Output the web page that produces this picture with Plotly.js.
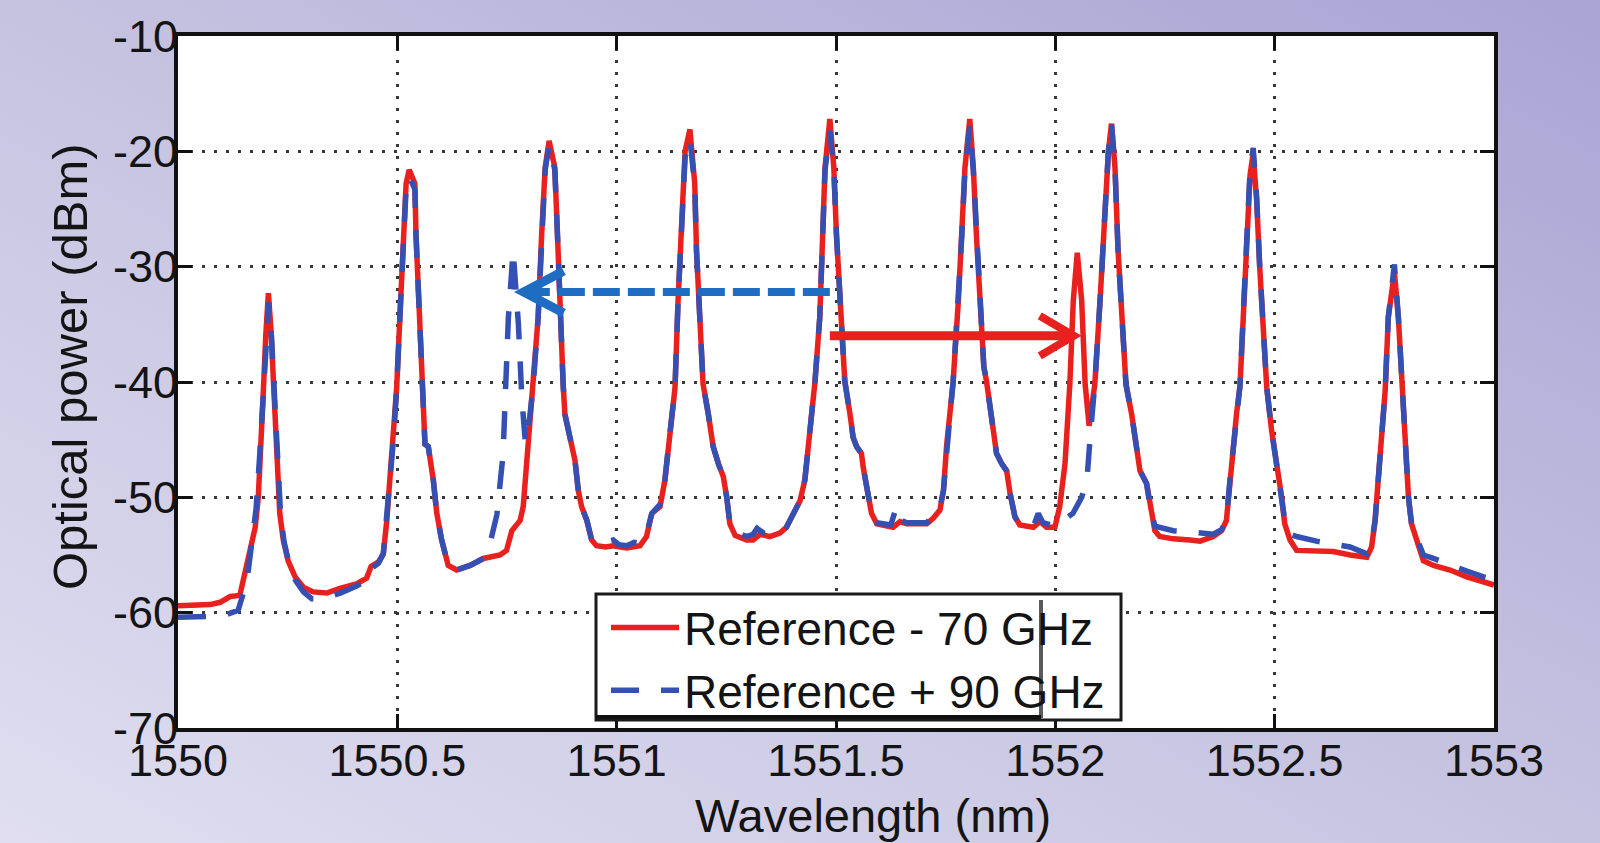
<!DOCTYPE html>
<html>
<head>
<meta charset="utf-8">
<script src="https://cdn.plot.ly/plotly-3.0.1.min.js"></script>
<style>
  html, body {
    margin: 0;
    padding: 0;
    width: 1600px;
    height: 843px;
    overflow: hidden;
    background: linear-gradient(to top right, #e0def0 0%, #c6c3e1 50%, #a9a4d4 100%);
  }
  #chart { width: 1600px; height: 843px; }
</style>
</head>
<body>
<div id="chart"></div>
<script>
// Optical spectrum, reference shifted by -70 GHz (solid red)
const wavelengthMinus70 = [
  1550.000, 1550.040, 1550.073, 1550.096, 1550.119, 1550.141, 1550.149, 1550.164, 1550.176, 1550.183,
  1550.187, 1550.194, 1550.200, 1550.206, 1550.212, 1550.218, 1550.223, 1550.226, 1550.232, 1550.240,
  1550.251, 1550.267, 1550.286, 1550.308, 1550.339, 1550.369, 1550.407, 1550.430, 1550.440, 1550.457,
  1550.468, 1550.476, 1550.483, 1550.491, 1550.4985, 1550.5076, 1550.5136, 1550.520, 1550.527, 1550.540,
  1550.5425, 1550.548, 1550.555, 1550.558, 1550.563, 1550.5705, 1550.582, 1550.590, 1550.601, 1550.616,
  1550.635, 1550.666, 1550.696, 1550.734, 1550.749, 1550.761, 1550.780, 1550.787, 1550.795, 1550.802,
  1550.810, 1550.821, 1550.829, 1550.837, 1550.846, 1550.859, 1550.865, 1550.871, 1550.878, 1550.882,
  1550.894, 1550.905, 1550.9125, 1550.920, 1550.932, 1550.943, 1550.954, 1550.975, 1550.992, 1551.023,
  1551.053, 1551.068, 1551.080, 1551.099, 1551.110, 1551.118, 1551.125, 1551.133, 1551.140, 1551.148,
  1551.156, 1551.167, 1551.178, 1551.182, 1551.188, 1551.197, 1551.209, 1551.220, 1551.232, 1551.243,
  1551.251, 1551.258, 1551.270, 1551.296, 1551.311, 1551.327, 1551.349, 1551.372, 1551.387, 1551.403,
  1551.418, 1551.429, 1551.437, 1551.444, 1551.452, 1551.463, 1551.469, 1551.475, 1551.486, 1551.495,
  1551.501, 1551.509, 1551.517, 1551.520, 1551.532, 1551.539, 1551.547, 1551.558, 1551.562, 1551.570,
  1551.581, 1551.593, 1551.630, 1551.646, 1551.661, 1551.707, 1551.722, 1551.737, 1551.745, 1551.752,
  1551.760, 1551.767, 1551.779, 1551.787, 1551.794, 1551.805, 1551.813, 1551.820, 1551.828, 1551.837,
  1551.843, 1551.855, 1551.866, 1551.878, 1551.889, 1551.897, 1551.908, 1551.919, 1551.950, 1551.965,
  1551.980, 1551.999, 1552.010, 1552.022, 1552.029, 1552.033, 1552.041, 1552.050, 1552.060, 1552.068,
  1552.077, 1552.090, 1552.102, 1552.113, 1552.121, 1552.128, 1552.136, 1552.143, 1552.151, 1552.161,
  1552.174, 1552.185, 1552.193, 1552.208, 1552.216, 1552.227, 1552.238, 1552.269, 1552.307, 1552.330,
  1552.360, 1552.379, 1552.390, 1552.398, 1552.406, 1552.413, 1552.421, 1552.428, 1552.436, 1552.444,
  1552.451, 1552.459, 1552.466, 1552.474, 1552.482, 1552.493, 1552.505, 1552.516, 1552.523, 1552.535,
  1552.550, 1552.595, 1552.634, 1552.672, 1552.710, 1552.721, 1552.729, 1552.736, 1552.744, 1552.752,
  1552.759, 1552.773, 1552.782, 1552.790, 1552.797, 1552.805, 1552.812, 1552.824, 1552.839, 1552.862,
  1552.900, 1552.938, 1552.976, 1553.000
];
const powerMinus70 = [
  -59.4, -59.4, -59.3, -59.1, -58.6, -58.5, -57.2, -54.3, -52.6, -50.0,
  -45.6, -41.3, -36.0, -32.3, -35.5, -40.0, -44.0, -47.9, -51.4, -53.7,
  -55.5, -56.9, -57.8, -58.2, -58.3, -57.9, -57.5, -57.0, -56.0, -55.6,
  -54.9, -52.0, -48.5, -45.1, -40.5, -32.9, -27.2, -22.8, -21.6, -22.8,
  -27.2, -32.9, -40.2, -42.8, -45.4, -45.6, -48.5, -51.4, -53.7, -55.9,
  -56.3, -55.9, -55.3, -55.0, -54.6, -52.9, -52.0, -50.8, -47.1, -42.8,
  -40.2, -34.4, -27.2, -21.4, -19.1, -21.4, -27.2, -34.4, -40.2, -42.8,
  -44.8, -46.8, -49.4, -50.8, -52.0, -53.7, -54.2, -54.3, -54.2, -54.4,
  -54.2, -53.4, -51.4, -50.8, -48.5, -45.6, -42.8, -40.5, -32.9, -25.7,
  -20.0, -18.1, -22.8, -28.6, -34.4, -40.2, -42.8, -45.6, -47.1, -48.2,
  -50.0, -52.3, -53.3, -53.7, -53.7, -53.2, -53.4, -53.1, -52.6, -51.4,
  -50.3, -48.5, -45.6, -42.2, -40.0, -34.4, -27.2, -21.4, -17.2, -21.4,
  -27.2, -33.5, -38.7, -39.9, -42.8, -44.8, -45.6, -46.2, -47.4, -49.4,
  -51.4, -52.3, -52.6, -52.1, -52.3, -52.3, -51.8, -51.1, -49.4, -45.6,
  -42.8, -40.0, -32.9, -27.2, -21.4, -17.2, -21.4, -27.2, -32.9, -38.7,
  -39.9, -42.8, -46.2, -47.1, -47.7, -49.7, -51.7, -52.4, -52.6, -52.1,
  -52.6, -52.6, -50.8, -47.1, -42.8, -40.2, -32.9, -28.8, -32.9, -40.2,
  -43.8, -40.2, -32.9, -25.7, -20.0, -17.6, -21.4, -28.6, -34.4, -40.2,
  -42.8, -45.6, -47.7, -48.8, -50.8, -52.9, -53.4, -53.6, -53.7, -53.8,
  -53.4, -52.9, -52.0, -48.5, -45.6, -42.8, -40.3, -34.4, -27.2, -22.0,
  -20.2, -24.3, -30.1, -35.8, -40.5, -44.2, -47.1, -50.0, -52.3, -53.7,
  -54.6, -54.7, -54.7, -55.0, -55.2, -54.3, -52.0, -48.5, -44.2, -40.7,
  -34.4, -30.5, -34.4, -40.2, -45.6, -50.0, -52.3, -53.7, -55.5, -55.9,
  -56.3, -56.9, -57.3, -57.6
];

// Optical spectrum, reference shifted by +90 GHz (dashed blue)
const wavelengthPlus90 = [
  1550.000, 1550.040, 1550.070, 1550.100, 1550.137, 1550.157, 1550.168, 1550.178, 1550.186, 1550.194,
  1550.201, 1550.207, 1550.213, 1550.219, 1550.224, 1550.228, 1550.234, 1550.242, 1550.253, 1550.268,
  1550.286, 1550.305, 1550.330, 1550.345, 1550.370, 1550.407, 1550.430, 1550.440, 1550.457, 1550.468,
  1550.476, 1550.483, 1550.491, 1550.4985, 1550.5076, 1550.5136, 1550.520, 1550.527, 1550.540, 1550.5425,
  1550.548, 1550.555, 1550.558, 1550.563, 1550.5705, 1550.582, 1550.590, 1550.601, 1550.616, 1550.635,
  1550.666, 1550.696, 1550.710, 1550.727, 1550.741, 1550.748, 1550.753, 1550.764, 1550.776, 1550.784,
  1550.792, 1550.802, 1550.810, 1550.821, 1550.829, 1550.837, 1550.846, 1550.859, 1550.865, 1550.871,
  1550.878, 1550.882, 1550.894, 1550.905, 1550.9125, 1550.920, 1550.932, 1550.943, 1550.954, 1550.975,
  1550.992, 1551.005, 1551.023, 1551.040, 1551.053, 1551.068, 1551.080, 1551.099, 1551.110, 1551.118,
  1551.125, 1551.133, 1551.140, 1551.148, 1551.156, 1551.167, 1551.178, 1551.182, 1551.188, 1551.197,
  1551.209, 1551.220, 1551.232, 1551.243, 1551.251, 1551.258, 1551.270, 1551.296, 1551.311, 1551.320,
  1551.335, 1551.349, 1551.372, 1551.387, 1551.403, 1551.418, 1551.429, 1551.437, 1551.444, 1551.452,
  1551.463, 1551.469, 1551.475, 1551.486, 1551.495, 1551.501, 1551.509, 1551.517, 1551.520, 1551.532,
  1551.539, 1551.547, 1551.558, 1551.562, 1551.570, 1551.581, 1551.593, 1551.625, 1551.638, 1551.650,
  1551.661, 1551.707, 1551.722, 1551.737, 1551.745, 1551.752, 1551.760, 1551.767, 1551.779, 1551.787,
  1551.794, 1551.805, 1551.813, 1551.820, 1551.828, 1551.837, 1551.843, 1551.855, 1551.866, 1551.878,
  1551.889, 1551.897, 1551.908, 1551.919, 1551.950, 1551.961, 1551.972, 1551.999, 1552.020, 1552.040,
  1552.060, 1552.072, 1552.080, 1552.090, 1552.102, 1552.113, 1552.121, 1552.128, 1552.136, 1552.143,
  1552.151, 1552.161, 1552.174, 1552.185, 1552.193, 1552.208, 1552.216, 1552.227, 1552.238, 1552.269,
  1552.307, 1552.330, 1552.360, 1552.379, 1552.390, 1552.398, 1552.406, 1552.413, 1552.421, 1552.428,
  1552.436, 1552.444, 1552.451, 1552.459, 1552.466, 1552.474, 1552.482, 1552.493, 1552.505, 1552.516,
  1552.523, 1552.535, 1552.550, 1552.595, 1552.634, 1552.672, 1552.710, 1552.721, 1552.729, 1552.736,
  1552.744, 1552.752, 1552.759, 1552.773, 1552.782, 1552.790, 1552.797, 1552.805, 1552.812, 1552.824,
  1552.839, 1552.862, 1552.900, 1552.938, 1552.976, 1553.000
];
const powerPlus90 = [
  -60.4, -60.4, -60.4, -60.3, -59.8, -57.3, -54.0, -51.0, -46.5, -41.5,
  -36.5, -33.1, -36.0, -40.5, -44.5, -48.2, -51.6, -53.9, -55.7, -57.2,
  -58.2, -58.8, -58.8, -58.6, -58.3, -57.7, -57.2, -56.2, -55.7, -54.9,
  -52.0, -48.5, -45.1, -40.5, -32.9, -27.2, -23.2, -22.2, -23.3, -27.2,
  -32.9, -40.2, -42.8, -45.4, -45.6, -48.5, -51.4, -53.7, -55.9, -56.3,
  -55.9, -55.3, -54.2, -51.5, -46.3, -40.5, -34.5, -28.6, -35.0, -41.5,
  -45.3, -43.0, -40.2, -34.4, -27.2, -21.6, -19.5, -21.6, -27.2, -34.4,
  -40.2, -42.8, -44.8, -46.8, -49.4, -50.8, -52.0, -53.7, -54.0, -53.9,
  -53.7, -54.1, -54.2, -53.9, -54.0, -53.2, -51.4, -50.6, -48.5, -45.6,
  -42.8, -40.5, -32.9, -25.7, -20.5, -18.9, -23.0, -28.6, -34.4, -40.2,
  -42.8, -45.6, -47.1, -48.2, -50.0, -52.3, -53.0, -53.4, -53.2, -52.7,
  -53.1, -53.2, -53.1, -52.6, -51.4, -50.3, -48.5, -45.6, -42.2, -40.0,
  -34.4, -27.2, -21.6, -18.2, -21.6, -27.2, -33.5, -38.7, -39.9, -42.8,
  -44.8, -45.6, -46.2, -47.4, -49.4, -51.4, -52.2, -52.4, -50.8, -52.0,
  -52.2, -52.2, -51.6, -50.9, -49.4, -45.6, -42.8, -40.0, -32.9, -27.2,
  -21.6, -17.8, -21.6, -27.2, -32.9, -38.7, -39.9, -42.8, -46.2, -47.1,
  -47.7, -49.7, -51.7, -52.4, -52.5, -51.4, -52.2, -52.5, -52.0, -51.4,
  -50.0, -48.5, -44.5, -40.2, -32.9, -25.7, -20.0, -17.6, -21.4, -28.6,
  -34.4, -40.2, -42.8, -45.6, -47.7, -48.8, -50.8, -52.5, -52.6, -52.9,
  -53.0, -53.1, -53.2, -52.8, -52.0, -48.5, -45.6, -42.8, -40.3, -34.4,
  -27.2, -21.6, -19.7, -24.0, -30.1, -35.8, -40.5, -44.2, -47.1, -50.0,
  -52.0, -53.2, -53.4, -53.8, -54.0, -54.3, -54.9, -54.0, -52.0, -48.5,
  -44.2, -40.7, -34.4, -29.8, -34.4, -40.2, -45.6, -50.0, -52.3, -53.5,
  -55.0, -55.3, -55.9, -56.4, -56.9, -57.1
];

const seriesNames = ['Reference - 70 GHz', 'Reference + 90 GHz'];

const xTickVals = [1550, 1550.5, 1551, 1551.5, 1552, 1552.5, 1553];
const xTickText = ['1550', '1550.5', '1551', '1551.5', '1552', '1552.5', '1553'];
const yTickVals = [-70, -60, -50, -40, -30, -20, -10];
const yTickText = ['-70', '-60', '-50', '-40', '-30', '-20', '-10'];

// Frequency-shift arrows: start wavelength, tip wavelength, power level
const shiftPlus90Arrow = { start: 1551.486, tip: 1550.788, level: -32.2 };
const shiftMinus70Arrow = { start: 1551.486, tip: 1552.042, level: -36.0 };

// Page geometry (pixels)
const W = 1600, H = 843;
const M = { l: 178, r: 106, t: 36, b: 115 };
const plotW = W - M.l - M.r;
const plotH = H - M.t - M.b;
const xRange = [1550, 1553];
const yRange = [-70, -10];
const pxPerNm = plotW / (xRange[1] - xRange[0]);
const pxPerDb = plotH / (yRange[1] - yRange[0]);
// pixel -> paper helpers
const px = v => (v - M.l) / plotW;
const py = v => (H - M.b - v) / plotH;

const RED = '#e9211e';
const BLUE = '#3550b3';
const ARROW_BLUE = '#1f6cc3';
const FONT = '"Liberation Sans", Arial, Helvetica, sans-serif';
const INK = '#141414';

function chevron(tip, level, dir, lenPx, halfPx) {
  // dir = -1 points left, +1 points right
  const dx = -dir * lenPx / pxPerNm;
  const dy = halfPx / pxPerDb;
  return `M ${tip + dx},${level + dy} L ${tip},${level} L ${tip + dx},${level - dy}`;
}

const traces = [
  {
    x: wavelengthMinus70, y: powerMinus70, type: 'scatter', mode: 'lines',
    name: seriesNames[0],
    line: { color: RED, width: 5.5 }
  },
  {
    x: wavelengthPlus90, y: powerPlus90, type: 'scatter', mode: 'lines',
    name: seriesNames[1],
    line: { color: BLUE, width: 5.5, dash: '28px,22px' }
  }
];

const axisStyle = {
  showgrid: true,
  gridcolor: '#383838',
  gridwidth: 3,
  griddash: '3px,9px',
  zeroline: false,
  showline: true,
  linecolor: '#111',
  linewidth: 4,
  mirror: 'ticks',
  ticks: 'inside',
  ticklen: 14,
  tickwidth: 3,
  tickcolor: '#111',
  tickfont: { family: FONT, size: 45, color: INK },
  tickmode: 'array',
  automargin: false
};

const layout = {
  width: W,
  height: H,
  margin: M,
  paper_bgcolor: 'rgba(0,0,0,0)',
  plot_bgcolor: '#ffffff',
  showlegend: true,
  xaxis: Object.assign({}, axisStyle, {
    range: xRange,
    tickvals: xTickVals,
    ticktext: xTickText,
    ticklabelstandoff: -10
  }),
  yaxis: Object.assign({}, axisStyle, {
    range: yRange,
    tickvals: yTickVals,
    ticktext: yTickText,
    ticklabelstandoff: -13
  }),
  legend: {
    x: px(606),
    y: py(591),
    xanchor: 'left',
    yanchor: 'top',
    bgcolor: 'rgba(0,0,0,0)',
    borderwidth: 0,
    itemwidth: 68,
    font: { family: FONT, size: 46, color: INK },
    tracegroupgap: 0
  },
  annotations: [
    {
      text: 'Wavelength (nm)', xref: 'paper', yref: 'paper',
      x: px(873), y: py(815),
      xanchor: 'center', yanchor: 'middle', showarrow: false,
      font: { family: FONT, size: 47, color: INK }
    },
    {
      text: 'Optical power (dBm)', xref: 'paper', yref: 'paper',
      x: px(70), y: py(367),
      xanchor: 'center', yanchor: 'middle', textangle: -90, showarrow: false,
      font: { family: FONT, size: 49, color: INK }
    }
  ],
  shapes: [
    // +90 GHz shift (dashed blue, pointing to shorter wavelength)
    {
      type: 'line', xref: 'x', yref: 'y', layer: 'above',
      x0: shiftPlus90Arrow.start, x1: shiftPlus90Arrow.tip,
      y0: shiftPlus90Arrow.level, y1: shiftPlus90Arrow.level,
      line: { color: ARROW_BLUE, width: 8, dash: '27px,8px' }
    },
    {
      type: 'path', xref: 'x', yref: 'y', layer: 'above',
      path: chevron(shiftPlus90Arrow.tip, shiftPlus90Arrow.level, -1, 40, 21),
      line: { color: ARROW_BLUE, width: 9 }
    },
    // -70 GHz shift (solid red, pointing to longer wavelength)
    {
      type: 'line', xref: 'x', yref: 'y', layer: 'above',
      x0: shiftMinus70Arrow.start, x1: shiftMinus70Arrow.tip,
      y0: shiftMinus70Arrow.level, y1: shiftMinus70Arrow.level,
      line: { color: RED, width: 9 }
    },
    {
      type: 'path', xref: 'x', yref: 'y', layer: 'above',
      path: chevron(shiftMinus70Arrow.tip, shiftMinus70Arrow.level, 1, 34, 20),
      line: { color: RED, width: 8 }
    },
    // legend frame
    {
      type: 'rect', xref: 'paper', yref: 'paper', layer: 'above',
      x0: px(596), x1: px(1121), y0: py(720), y1: py(594),
      fillcolor: '#ffffff',
      line: { color: '#1a1a1a', width: 3 }
    },
    // inner frame edge inside the legend box
    {
      type: 'line', xref: 'paper', yref: 'paper', layer: 'above',
      x0: px(1041), x1: px(1041), y0: py(600), y1: py(718),
      line: { color: '#5a5a5a', width: 4 }
    },
    {
      type: 'line', xref: 'paper', yref: 'paper', layer: 'above',
      x0: px(596), x1: px(1041), y0: py(717), y1: py(717),
      line: { color: '#111', width: 4 }
    }
  ]
};

Plotly.newPlot('chart', traces, layout, { staticPlot: true, displayModeBar: false });
</script>
</body>
</html>
